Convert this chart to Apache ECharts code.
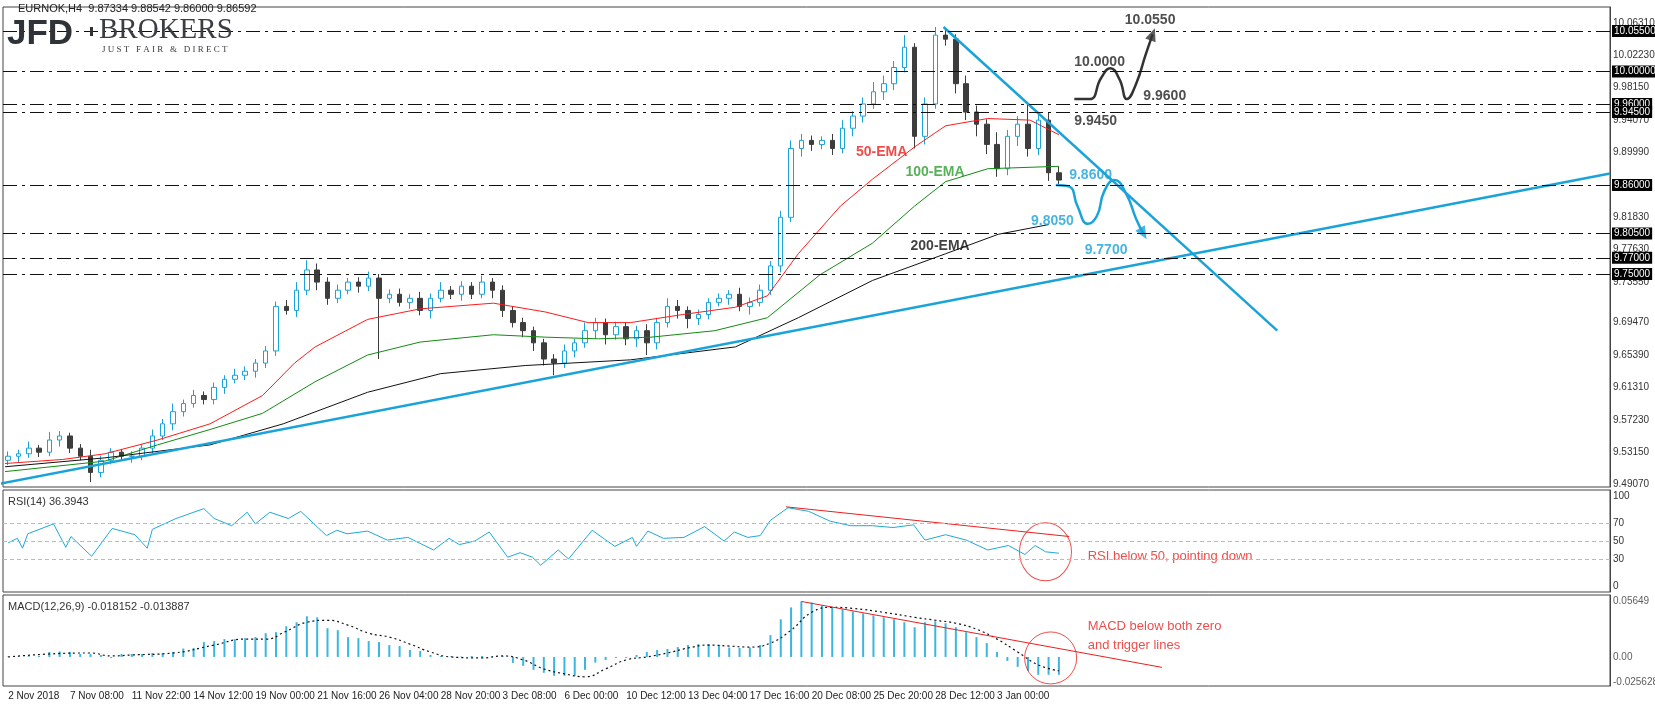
<!DOCTYPE html>
<html>
<head>
<meta charset="utf-8">
<script src="https://cdn.jsdelivr.net/npm/echarts@6/dist/echarts.min.js"></script>
<style>html,body{margin:0;padding:0;background:#fff}#main{width:1655px;height:707px}</style>
</head>
<body>
<div id="main"></div>
<script>
// closes for each H4-ish candle
var closes = [9.525,9.528,9.535,9.530,9.545,9.550,9.535,9.525,9.505,9.520,
  9.530,9.525,9.525,9.535,9.550,9.565,9.580,9.590,9.600,9.595,
  9.610,9.620,9.625,9.630,9.640,9.655,9.710,9.705,9.730,9.755,
  9.740,9.720,9.730,9.740,9.735,9.745,9.720,9.725,9.715,9.720,
  9.705,9.720,9.730,9.725,9.735,9.725,9.740,9.730,9.705,9.690,
  9.680,9.665,9.645,9.640,9.655,9.665,9.680,9.690,9.675,9.685,
  9.670,9.680,9.665,9.690,9.710,9.705,9.695,9.700,9.715,9.720,
  9.725,9.710,9.715,9.730,9.760,9.820,9.905,9.915,9.910,9.915,
  9.905,9.930,9.945,9.960,9.975,9.985,10.005,10.030,9.920,9.960,
  10.045,10.040,9.985,9.950,9.935,9.910,9.880,9.920,9.935,9.905,
  9.940,9.875,9.866];
var firstOpen = 9.520;
// wicks in thousandths
var upWick = [6,5,8,4,10,6,4,5,8,6, 5,4,6,5,8,6,10,5,7,5, 6,5,8,6,5,6,6,8,10,12,
  8,6,7,5,6,8,5,6,7,5, 8,6,10,5,6,5,8,5,6,5, 6,5,5,6,8,5,10,6,5,6,
  5,6,8,6,10,8,5,6,5,6, 5,8,6,7,6,8,10,8,6,5, 8,10,6,8,12,10,8,15,5,8,
  10,8,6,10,8,6,15,8,10,25,8,10,8];
var downWick = [6,8,5,6,5,8,6,5,12,6, 5,6,8,5,6,5,8,6,5,6, 6,8,5,6,8,6,6,5,8,6,
  10,8,6,5,8,6,75,6,5,8, 6,10,5,6,8,6,5,10,8,6, 8,10,8,15,6,8,6,10,12,6,
  8,10,15,8,6,10,12,8,6,5, 8,6,10,5,6,8,6,10,8,6, 8,6,10,8,6,10,8,6,15,10,
  6,8,12,10,15,12,10,8,12,10,8,10,6];

var ema50 = [[-0.3,9.516],[5.3,9.521],[9.4,9.528],[14.5,9.545],[19.6,9.565],[24.7,9.600],[27.8,9.640],[29.8,9.660],[34.9,9.694],[40,9.707],[47.1,9.714],[52.2,9.703],[56.3,9.690],[60.4,9.690],[65.5,9.700],[70.6,9.709],[73.7,9.723],[76.7,9.775],[80.8,9.834],[83.9,9.867],[88,9.907],[91,9.933],[95.1,9.942],[99.2,9.940],[102,9.922]];
var ema100 = [[-0.3,9.506],[9.4,9.519],[14.5,9.539],[19.6,9.558],[24.7,9.578],[29.8,9.617],[34.9,9.650],[40,9.666],[47.1,9.675],[52.2,9.672],[57.3,9.670],[62.4,9.672],[68.6,9.680],[73.7,9.696],[78.8,9.749],[83.9,9.788],[88,9.834],[91,9.864],[95.1,9.880],[102,9.883]];
var ema200 = [[-0.3,9.512],[9.4,9.523],[19.6,9.539],[26.7,9.565],[34.9,9.604],[42,9.627],[50.2,9.637],[60.4,9.644],[70.6,9.660],[76.7,9.696],[83.9,9.742],[91,9.775],[96.1,9.799],[101,9.811]];

var upTrend = [[-0.8,9.491],[155.5,9.874]];
var downTrend = [[90.8,10.055],[123.2,9.680]];
var levels = ['10.05500','10.00000','9.96000','9.94500','9.86000','9.80500','9.77000','9.75000'];
var priceTicks = ['9.49070','9.53150','9.57230','9.61310','9.65390','9.69470','9.73550','9.77630','9.81830','9.85910','9.89990','9.94070','9.98150','10.02230','10.06310'];
var dateLabels = ['2 Nov 2018','7 Nov 08:00','11 Nov 22:00','14 Nov 12:00','19 Nov 00:00','21 Nov 16:00','26 Nov 04:00','28 Nov 20:00','3 Dec 08:00','6 Dec 00:00','10 Dec 12:00','13 Dec 04:00','17 Dec 16:00','20 Dec 08:00','25 Dec 20:00','28 Dec 12:00','3 Jan 00:00'];

var blackWave = [[103.5,9.966],[105,9.966],[106.1,9.992],[107,10.004],[107.9,9.990],[108.6,9.966],[109.5,9.985],[110.4,10.020],[111.1,10.046]];
var blueWave = [[101.7,9.860],[103,9.858],[103.8,9.834],[104.8,9.812],[105.7,9.822],[106.4,9.852],[107.4,9.866],[108.5,9.850],[109.5,9.818],[110.2,9.800]];
var notes = [
  [108.4,10.064,'10.0550','#222'],[103.5,10.012,'10.0000','#222'],[110.2,9.970,'9.9600','#222'],[103.5,9.939,'9.9450','#222'],
  [103,9.872,'9.8600','#1aa3d9'],[99.3,9.815,'9.8050','#1aa3d9'],[104.5,9.780,'9.7700','#1aa3d9'],
  [82.3,9.900,'50-EMA','#e8201e'],[87.1,9.876,'100-EMA','#2e9e2e'],[87.6,9.784,'200-EMA','#111']];

var rsi = [[0,48],[0.9,53],[1.4,42],[1.9,58],[4.4,69],[5.6,43],[6.1,55],[8.1,33],[10.1,64],[12.3,57],[13.5,42],[14,63],[16.3,75],[19,86],[20,75],[21.7,67],[23.2,82],[24,69],[25.4,82],[27.2,75],[28.4,83],[30.9,56],[31.9,62],[32.9,58],[34.9,61],[36.8,51],[38.8,54],[41.3,40],[42.8,53],[43.8,46],[45.3,50],[46.7,60],[48.5,32],[49.7,37],[50.9,32],[51.7,23],[53.4,40],[54.4,30],[56.7,62],[57.9,52],[58.9,44],[60.6,54],[61,44],[62.1,61],[63.6,53],[65.6,54],[67.6,66],[69.5,50],[70.5,60],[71.8,54],[73,56],[74,73],[75.7,87],[77.7,83],[79.8,72],[81.8,67],[83.9,67],[85.9,65],[87.9,68],[89,51],[91,57],[93,51],[95.1,40],[97.1,45],[98.7,35],[99.7,45],[100.7,38],[102,36.4]];
var rsiTrend = [[75.5,88],[103,55]];
var rsiTicks = [100,70,50,30,0];

var macdHist = [0.0005,0.0005,0.0008,0.001,0.005,0.0055,0.005,0.003,0.003,0.002,
  -0.001,0.003,0.003,0.003,0.004,0.004,0.005,0.0085,0.009,0.015,
  0.016,0.018,0.018,0.019,0.02,0.024,0.025,0.031,0.035,0.041,
  0.04,0.029,0.027,0.02,0.019,0.016,0.015,0.012,0.011,0.007,
  0.006,0.002,0.001,0.0006,0.0005,0.001,0.001,0.0005,0.001,-0.006,
  -0.009,-0.013,-0.016,-0.019,-0.019,-0.019,-0.013,-0.0057,-0.003,-0.001,
  -0.001,0.002,0.005,0.007,0.008,0.01,0.012,0.013,0.013,0.012,
  0.0095,0.009,0.0095,0.012,0.022,0.038,0.05,0.056,0.055,0.052,
  0.05,0.048,0.046,0.044,0.042,0.04,0.038,0.035,0.03,0.035,
  0.036,0.034,0.03,0.025,0.02,0.014,0.005,-0.004,-0.01,-0.014,
  -0.018,-0.018,-0.018];
var macdSignal = [[0,0],[4,0.003],[8,0.004],[10,0.001],[12,0.002],[16,0.004],[20,0.012],[23,0.018],[25,0.018],[27,0.026],[29,0.035],[31,0.037],[33,0.032],[35,0.024],[37,0.02],[39,0.013],[41,0.005],[43,0],[46,-0.001],[48,0.001],[50,-0.003],[52,-0.012],[54,-0.017],[56,-0.02],[58,-0.012],[60,-0.003],[62,0],[64,0.004],[66,0.009],[68,0.012],[70,0.011],[72,0.01],[74,0.014],[76,0.027],[78,0.045],[80,0.05],[82,0.049],[85,0.045],[88,0.04],[90,0.037],[92,0.034],[94,0.028],[96,0.018],[98,0.005],[100,-0.008],[102,-0.0139]];
var macdTrend = [[77,0.056],[112,-0.0105]];
var macdTicks = ['0.05649','0.00','-0.025628'];

var NCAT = 156;
var cats = [];
for (var i = 0; i < NCAT; i++) cats.push(i % 6 === 0 && i / 6 < dateLabels.length ? dateLabels[i / 6] : '');

var candles = closes.map(function (c, i) {
  var o = i === 0 ? firstOpen : closes[i - 1];
  return [o, c, Math.min(o, c) - downWick[i] / 1000, Math.max(o, c) + upWick[i] / 1000];
});

var FONT = 'Liberation Sans';
var CYAN = '#1aa3d9';
var chart = echarts.init(document.getElementById('main'));

function valX(g) {
  return { type: 'value', gridIndex: g, min: -0.5, max: NCAT - 0.5, show: false };
}
function valY(g, min, max) {
  return { type: 'value', gridIndex: g, min: min, max: max, position: 'right', splitLine: { show: false },
    axisLine: { show: true, onZero: false, lineStyle: { color: '#444' } }, axisLabel: { show: false }, axisTick: { show: false } };
}
function tickLines(list) {
  return list.map(function (t) {
    return { yAxis: parseFloat(t), label: { formatter: t } };
  });
}
var scaleLabel = { position: 'end', distance: 3, color: '#333', fontSize: 10, fontFamily: FONT };
var clear = { color: 'rgba(0,0,0,0)' };

chart.setOption({
  animation: false,
  textStyle: { fontFamily: FONT },
  grid: [
    { left: 3, right: 45, top: 7, height: 480, show: true, borderColor: '#444', borderWidth: 1 },
    { left: 3, right: 45, top: 490, height: 102, show: true, borderColor: '#444', borderWidth: 1 },
    { left: 3, right: 45, top: 595, height: 91, show: true, borderColor: '#444', borderWidth: 1 }
  ],
  xAxis: [
    { type: 'category', gridIndex: 0, data: cats, show: false },
    valX(0),
    valX(1),
    { type: 'category', gridIndex: 2, data: cats, axisLine: { show: false }, axisTick: { show: false },
      axisLabel: { interval: 0, color: '#222', fontSize: 10, fontFamily: FONT, margin: 5, align: 'left' } },
    valX(2)
  ],
  yAxis: [
    valY(0, 9.487, 10.0797),
    valY(1, -6.7, 106.7),
    valY(2, -0.0293, 0.0625)
  ],
  graphic: [
    { type: 'text', left: 18, top: 3, z: 20, style: { text: 'EURNOK,H4  9.87334 9.88542 9.86000 9.86592', font: '11px "Liberation Sans"', fill: '#222' } },
    { type: 'text', left: 7, top: 17, z: 20, style: { text: 'JFD', font: '900 35px "Liberation Sans"', fill: '#2f3338' } },
    { type: 'rect', left: 90, top: 27, z: 20, shape: { width: 3, height: 9 }, style: { fill: '#2f3338' } },
    { type: 'text', left: 99, top: 16, z: 20, style: { text: 'BROKERS', font: '29px "Liberation Serif"', fill: '#3a3d42' } },
    { type: 'text', left: 102, top: 45, z: 20, style: { text: 'J U S T   F A I R   &   D I R E C T', font: '9px "Liberation Serif"', fill: '#3a3d42' } },
    { type: 'text', left: 8, top: 496, style: { text: 'RSI(14) 36.3943', font: '11px "Liberation Sans"', fill: '#333' } },
    { type: 'text', left: 8, top: 601, style: { text: 'MACD(12,26,9) -0.018152 -0.013887', font: '11px "Liberation Sans"', fill: '#333' } }
  ],
  series: [
    { type: 'candlestick', xAxisIndex: 0, yAxisIndex: 0, data: candles, barWidth: 5,
      itemStyle: { color: '#ffffff', borderColor: CYAN, color0: '#3d3d3d', borderColor0: '#3d3d3d', borderWidth: 1 } },
    { type: 'line', xAxisIndex: 1, yAxisIndex: 0, data: ema50, symbol: 'none', lineStyle: { color: '#ff1a1a', width: 1 } },
    { type: 'line', xAxisIndex: 1, yAxisIndex: 0, data: ema100, symbol: 'none', lineStyle: { color: '#138a13', width: 1 } },
    { type: 'line', xAxisIndex: 1, yAxisIndex: 0, data: ema200, symbol: 'none', lineStyle: { color: '#111', width: 1 } },
    { type: 'line', xAxisIndex: 1, yAxisIndex: 0, data: upTrend, symbol: 'none', lineStyle: { color: CYAN, width: 2.5 }, z: 3 },
    { type: 'line', xAxisIndex: 1, yAxisIndex: 0, data: downTrend, symbol: 'none', lineStyle: { color: CYAN, width: 2.5 }, z: 3 },
    { type: 'line', xAxisIndex: 1, yAxisIndex: 0, data: blackWave, smooth: true, symbol: 'none', lineStyle: { color: '#333', width: 2.5 } },
    { type: 'line', xAxisIndex: 1, yAxisIndex: 0, data: blueWave, smooth: true, symbol: 'none', lineStyle: { color: CYAN, width: 2.5 } },
    { type: 'scatter', xAxisIndex: 1, yAxisIndex: 0, symbol: 'triangle', symbolSize: [11, 13],
      data: [{ value: blackWave[blackWave.length - 1], symbolRotate: -20, itemStyle: { color: '#333' } },
             { value: blueWave[blueWave.length - 1], symbolRotate: 210, itemStyle: { color: CYAN } }] },
    { type: 'scatter', xAxisIndex: 1, yAxisIndex: 0, symbolSize: 0, z: 10,
      data: notes.map(function (n) {
        return { value: [n[0], n[1]], label: { show: true, position: 'right', distance: 0, formatter: n[2],
          color: n[3], fontSize: 14, fontWeight: 'bold', fontFamily: 'Liberation Sans' } };
      }) },
    // price scale labels
    { type: 'line', xAxisIndex: 1, yAxisIndex: 0, data: [], z: 5,
      markLine: { silent: true, symbol: 'none', lineStyle: clear, label: scaleLabel, data: tickLines(priceTicks) } },
    // level lines with black boxes
    { type: 'line', xAxisIndex: 1, yAxisIndex: 0, data: [], z: 6,
      markLine: { silent: true, symbol: 'none',
        lineStyle: { color: '#111', width: 1, type: [14, 5, 3, 5] },
        label: { position: 'end', distance: 2, color: '#fff', backgroundColor: '#000', padding: [1, 2], fontSize: 10, fontFamily: FONT },
        data: tickLines(levels) } },
    // RSI
    { type: 'line', xAxisIndex: 2, yAxisIndex: 1, data: rsi, symbol: 'none', lineStyle: { color: '#1fa8d8', width: 1 },
      markLine: { silent: true, symbol: 'none', lineStyle: { color: '#bbb', type: [4, 3], width: 1 },
        label: scaleLabel,
        data: rsiTicks.map(function (v) {
          return { yAxis: v, lineStyle: { color: (v === 0 || v === 100) ? 'rgba(0,0,0,0)' : '#bbb' } };
        }) } },
    { type: 'line', xAxisIndex: 2, yAxisIndex: 1, data: rsiTrend, symbol: 'none', lineStyle: { color: '#e8201e', width: 1 } },
    { type: 'scatter', xAxisIndex: 2, yAxisIndex: 1, symbol: 'circle', symbolSize: [52, 58], data: [[100.7, 38]],
      itemStyle: { color: 'rgba(0,0,0,0)', borderColor: '#e8201e', borderWidth: 1 } },
    { type: 'scatter', xAxisIndex: 2, yAxisIndex: 1, symbolSize: 0, data: [[104.8, 33]],
      label: { show: true, position: 'right', distance: 0, formatter: 'RSI below 50, pointing down', color: '#e8201e', fontSize: 13, fontFamily: 'Liberation Sans' } },
    // MACD
    { type: 'bar', xAxisIndex: 3, yAxisIndex: 2, data: macdHist, barWidth: 2, itemStyle: { color: '#3bb6e0' } },
    { type: 'line', xAxisIndex: 4, yAxisIndex: 2, data: macdSignal, smooth: true, symbol: 'none', lineStyle: { color: '#111', width: 1.2, type: [2, 3] } },
    { type: 'scatter', xAxisIndex: 4, yAxisIndex: 2, symbolSize: 0, clip: false, z: 10,
      data: macdTicks.map(function (t) { return [NCAT - 0.5, parseFloat(t)]; }),
      label: { show: true, position: 'right', distance: 3, color: '#333', fontSize: 10, fontFamily: FONT,
        formatter: function (p) { return macdTicks[p.dataIndex]; } } },
    { type: 'line', xAxisIndex: 4, yAxisIndex: 2, data: macdTrend, symbol: 'none', lineStyle: { color: '#e8201e', width: 1 } },
    { type: 'scatter', xAxisIndex: 4, yAxisIndex: 2, symbol: 'circle', symbolSize: [52, 52], data: [[101.2, -0.001]],
      itemStyle: { color: 'rgba(0,0,0,0)', borderColor: '#e8201e', borderWidth: 1 } },
    { type: 'scatter', xAxisIndex: 4, yAxisIndex: 2, symbolSize: 0, data: [[104.8, 0.031], [104.8, 0.0115]],
      label: { show: true, position: 'right', distance: 0, color: '#e8201e', fontSize: 13, fontFamily: 'Liberation Sans',
        formatter: function (p) { return p.dataIndex === 0 ? 'MACD below both zero' : 'and trigger lines'; } } }
  ]
});
</script>
</body>
</html>
